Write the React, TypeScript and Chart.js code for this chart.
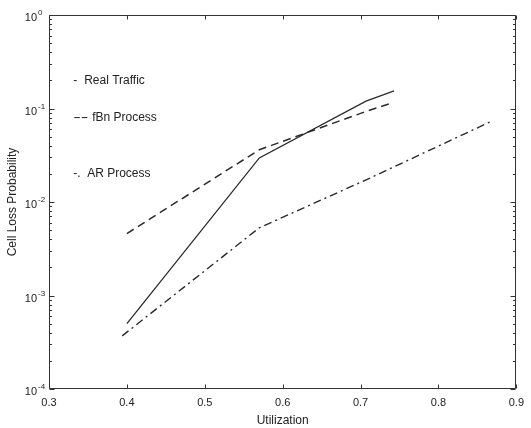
import React, { useEffect, useRef } from 'react';
import { Chart, registerables } from 'chart.js';

Chart.register(...registerables);

// ---- data ----
const realX = [0.4, 0.57, 0.707, 0.743];
const realY = [5.0e-4, 0.0296, 0.12, 0.154];

const fbnX = [0.4, 0.57, 0.71, 0.742];
const fbnY = [4.6e-3, 0.0362, 0.095, 0.116];

const arX = [0.394, 0.57, 0.71, 0.866];
const arY = [3.7e-4, 5.3e-3, 0.0177, 0.0717];

const seriesNames = ['Real Traffic', 'fBn Process', 'AR Process'];
const legendMarks = ['-', '--', '-.'];

const xTitle = 'Utilization';
const yTitle = 'Cell Loss Probability';

const INK = '#2a2a2a';
const FONT = "'Liberation Sans', Arial, Helvetica, sans-serif";

const toPoints = (xs: number[], ys: number[]) => xs.map((x, i) => ({ x, y: ys[i] }));

const matlabFrame = {
  id: 'matlabFrame',
  afterDraw(chart: any) {
    const { ctx, chartArea: a, scales } = chart;
    const xs = scales.x;
    const ys = scales.y;
    ctx.save();
    ctx.strokeStyle = '#333';
    ctx.lineWidth = 1;
    const L = Math.round(a.left) + 0.5;
    const R = Math.round(a.right) - 0.5;
    const T = Math.round(a.top) + 0.5;
    const B = Math.round(a.bottom) - 0.5;
    ctx.beginPath();
    ctx.rect(L, T, R - L, B - T);
    ctx.stroke();

    // x ticks (inward, bottom and top)
    ctx.beginPath();
    xs.ticks.forEach((t: any) => {
      const px = Math.round(xs.getPixelForValue(t.value)) + 0.5;
      ctx.moveTo(px, B);
      ctx.lineTo(px, B - 4);
      ctx.moveTo(px, T);
      ctx.lineTo(px, T + 4);
    });
    ctx.stroke();

    // y ticks (log, major + minor) from the scale's range
    const eMin = Math.round(Math.log10(ys.min));
    const eMax = Math.round(Math.log10(ys.max));
    const majors: { py: number; e: number }[] = [];
    ctx.beginPath();
    for (let e = eMin; e <= eMax; e++) {
      for (let m = 1; m <= 9; m++) {
        if (e === eMax && m > 1) break;
        const v = m * Math.pow(10, e);
        const py = Math.round(ys.getPixelForValue(v)) + 0.5;
        const len = m === 1 ? 5 : 2.5;
        ctx.moveTo(L, py);
        ctx.lineTo(L + len, py);
        ctx.moveTo(R, py);
        ctx.lineTo(R - len, py);
        if (m === 1) majors.push({ py, e });
      }
    }
    ctx.stroke();

    // y tick labels 10^n
    ctx.fillStyle = '#222';
    majors.forEach(({ py, e }) => {
      ctx.font = `11px ${FONT}`;
      ctx.textAlign = 'right';
      ctx.textBaseline = 'middle';
      ctx.fillText('10', a.left - 12, py + 2);
      ctx.font = `8px ${FONT}`;
      ctx.textAlign = 'left';
      ctx.fillText(String(e), a.left - 11, py - 3);
    });

    // in-plot text legend
    const lx = xs.getPixelForValue(0.331);
    const legendYs = [0.197, 0.079, 0.02];
    const textOffsets = [11, 19, 14];
    const markScale = [1, 1.9, 1];
    ctx.font = `12px ${FONT}`;
    ctx.textBaseline = 'middle';
    ctx.textAlign = 'left';
    seriesNames.forEach((name, i) => {
      const py = ys.getPixelForValue(legendYs[i]);
      ctx.save();
      ctx.translate(lx, py);
      ctx.scale(markScale[i], 1);
      ctx.fillText(legendMarks[i], 0, 0);
      ctx.restore();
      ctx.fillText(name, lx + textOffsets[i], py);
    });
    ctx.restore();
  },
};

export default function App() {
  const ref = useRef<HTMLCanvasElement>(null);
  useEffect(() => {
    if (!ref.current) return;
    const chart = new Chart(ref.current, {
      type: 'line',
      data: {
        datasets: [
          {
            label: seriesNames[0],
            data: toPoints(realX, realY),
            borderColor: INK,
            borderWidth: 1.3,
            pointRadius: 0,
            fill: false,
            tension: 0,
          },
          {
            label: seriesNames[1],
            data: toPoints(fbnX, fbnY),
            borderColor: INK,
            borderWidth: 1.5,
            borderDash: [8, 5],
            pointRadius: 0,
            fill: false,
            tension: 0,
          },
          {
            label: seriesNames[2],
            data: toPoints(arX, arY),
            borderColor: INK,
            borderWidth: 1.4,
            borderDash: [8, 4, 2, 4],
            pointRadius: 0,
            fill: false,
            tension: 0,
          },
        ],
      },
      options: {
        animation: false,
        responsive: true,
        maintainAspectRatio: false,
        layout: { padding: { top: 15, right: 9, left: 0, bottom: 0 } },
        plugins: { legend: { display: false }, tooltip: { enabled: false } },
        scales: {
          x: {
            type: 'linear',
            min: 0.3,
            max: 0.9,
            grid: { display: false, drawTicks: false },
            border: { display: false },
            ticks: {
              stepSize: 0.1,
              padding: 7,
              color: '#222',
              font: { family: FONT, size: 11 },
              callback: (v: any) => Number(v).toFixed(1),
              maxRotation: 0,
            },
            title: {
              display: true,
              text: xTitle,
              color: '#222',
              font: { family: FONT, size: 12 },
              padding: { top: 0, bottom: 0 },
            },
            afterFit: (s: any) => {
              s.height = 39;
            },
          },
          y: {
            type: 'logarithmic',
            min: 1e-4,
            max: 1,
            grid: { display: false, drawTicks: false },
            border: { display: false },
            ticks: { display: false },
            title: {
              display: true,
              text: yTitle,
              color: '#222',
              font: { family: FONT, size: 12 },
              padding: { top: 5, bottom: 0 },
            },
            afterFit: (s: any) => {
              s.width = 49;
            },
          },
        },
      },
      plugins: [matlabFrame],
    });
    return () => chart.destroy();
  }, []);

  return (
    <div style={{ position: 'fixed', left: 0, top: 0, width: 531, height: 428, background: '#fff' }}>
      <canvas ref={ref} />
    </div>
  );
}
